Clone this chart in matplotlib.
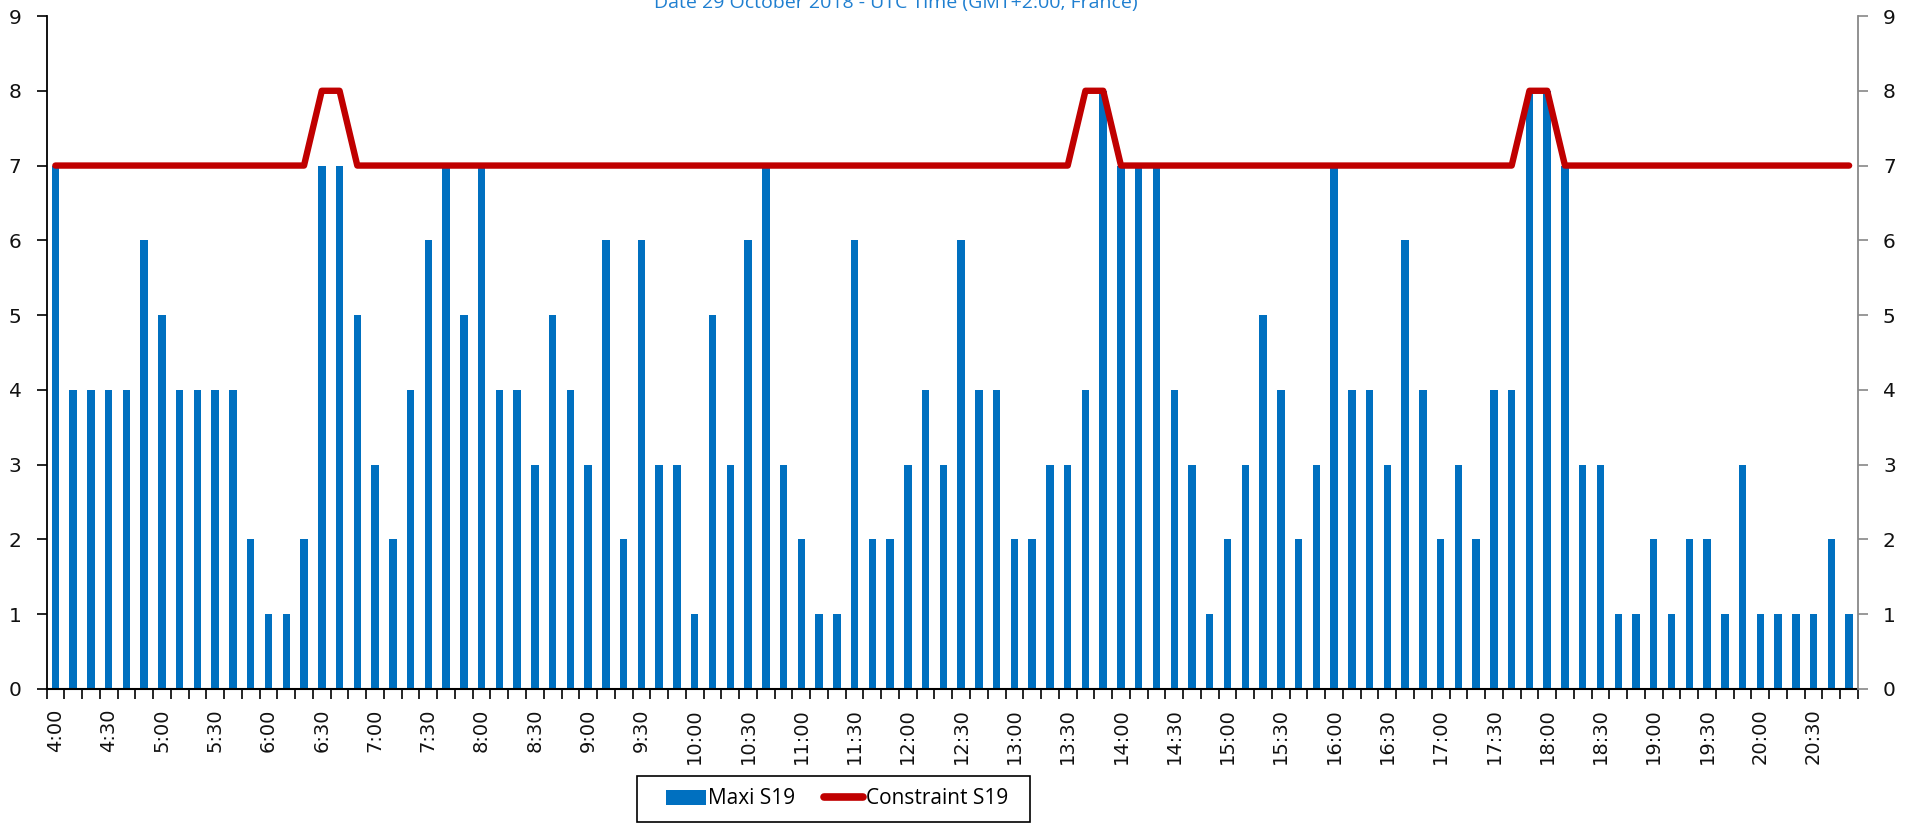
import matplotlib
matplotlib.use("Agg")
import matplotlib.pyplot as plt
import numpy as np
from matplotlib.lines import Line2D
from matplotlib.patches import Patch, Rectangle

# ---- data ----
times = []
for h in range(4, 21):
    for m in range(0, 60, 10):
        times.append(f"{h}:{m:02d}")
# 4:00 .. 20:50
maxi_s19 = [7, 4, 4, 4, 4, 6, 5, 4, 4, 4, 4, 2, 1, 1, 2, 7, 7, 5,
            3, 2, 4, 6, 7, 5, 7, 4, 4, 3, 5, 4, 3, 6, 2, 6, 3, 3,
            1, 5, 3, 6, 7, 3, 2, 1, 1, 6, 2, 2, 3, 4, 3, 6, 4, 4,
            2, 2, 3, 3, 4, 8, 7, 7, 7, 4, 3, 1, 2, 3, 5, 4, 2, 3,
            7, 4, 4, 3, 6, 4, 2, 3, 2, 4, 4, 8, 8, 7, 3, 3, 1, 1,
            2, 1, 2, 2, 1, 3, 1, 1, 1, 1, 2, 1]
constraint_s19 = [7] * 15 + [8, 8] + [7] * 41 + [8, 8] + [7] * 23 + [8, 8] + [7] * 17
tick_labels = times[::3]

title = "Date 29 October 2018 - UTC Time (GMT+2:00, France)"

W, H = 1905, 824
fig = plt.figure(figsize=(W / 100, H / 100), dpi=100)
ax = fig.add_axes([46.5 / W, 1 - 689 / H, (1858 - 46.5) / W, (689 - 16) / H])

x = np.arange(len(maxi_s19))
ax.bar(x, maxi_s19, width=0.42, color="#0070C0", zorder=2)
ax.plot(x, constraint_s19, color="#C00000", lw=4.6, solid_joinstyle="round",
        solid_capstyle="round", zorder=3)

ax.set_xlim(-0.5, len(maxi_s19) - 0.5)
ax.set_ylim(0, 9)
ax.set_yticks(range(0, 10))

# x ticks: labels every 30 min, tick marks at category boundaries
ax.set_xticks(x[::3])
ax.set_xticklabels(tick_labels, rotation=90, fontsize=14, family="DejaVu Sans", color="#111111")
ax.set_xticks(np.arange(-0.5, len(maxi_s19)), minor=True)
ax.tick_params(axis="x", which="major", length=0, pad=14)
ax.tick_params(axis="x", which="minor", length=7, width=1.2, direction="out", color="black")
ax.tick_params(axis="y", which="major", length=7, width=1.2, direction="out", pad=11,
               labelsize=14.5, labelcolor="#111111")

for s in ["top", "right"]:
    ax.spines[s].set_visible(False)
ax.spines["left"].set_linewidth(1.3)
ax.spines["bottom"].set_linewidth(1.5)

ax2 = ax.twinx()
ax2.set_ylim(0, 9)
ax2.set_yticks(range(0, 10))
ax2.tick_params(axis="y", length=7, width=1.2, direction="out", pad=11, color="#888888",
                labelsize=14.5, labelcolor="#111111")
for s in ["top", "left", "bottom"]:
    ax2.spines[s].set_visible(False)
ax2.spines["right"].set_color("#888888")
ax2.spines["right"].set_linewidth(1.3)

fig.text(0.470, 1 - 8 / H, title, ha="center", va="baseline", fontsize=14,
         family="Open Sans", color="#1F7FD0")

# legend frame drawn manually (pixel box of the reference legend)
fig.add_artist(Rectangle((637 / W, 1 - 822 / H), (1030 - 637) / W, (822 - 776) / H,
                         transform=fig.transFigure, facecolor="white", edgecolor="black",
                         lw=1.2, zorder=4))
handles = [Patch(facecolor="#0070C0", edgecolor="none"),
           Line2D([0], [0], color="#C00000", lw=5.5, solid_capstyle="round")]
leg = fig.legend(handles, ["Maxi S19", "Constraint S19"], loc="center",
                 bbox_to_anchor=(837 / W, 1 - 799 / H), ncol=2, frameon=False,
                 prop={"family": "Open Sans", "size": 15},
                 handlelength=1.9, handleheight=0.7, handletextpad=0.12, columnspacing=1.35,
                 borderpad=0.2)
leg.set_zorder(5)

fig.savefig("out.png", dpi=100)
